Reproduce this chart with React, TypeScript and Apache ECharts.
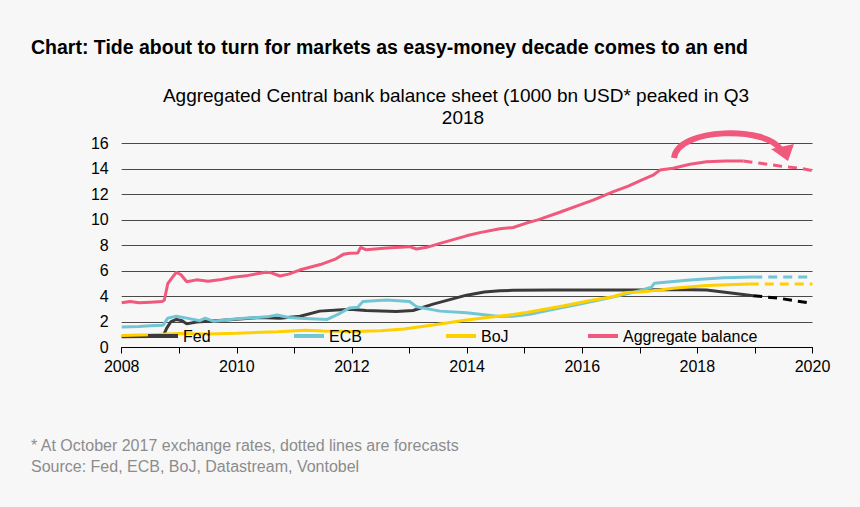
import React, { useEffect, useRef } from "react";
import * as echarts from "echarts";

// ---- data (year, value in 1000 bn USD) ----
const aggregateActual: [number, number][] = [
  [2008.0, 3.5], [2008.15, 3.6], [2008.3, 3.5], [2008.5, 3.55], [2008.7, 3.6], [2008.74, 3.7],
  [2008.8, 5.0], [2008.88, 5.5], [2008.95, 5.9], [2009.03, 5.7], [2009.13, 5.15], [2009.3, 5.3],
  [2009.5, 5.2], [2009.7, 5.3], [2009.94, 5.5], [2010.2, 5.65], [2010.5, 5.9], [2010.6, 5.85],
  [2010.75, 5.6], [2010.9, 5.75], [2011.09, 6.07], [2011.45, 6.5], [2011.7, 6.9], [2011.85, 7.3],
  [2011.96, 7.38], [2012.1, 7.4], [2012.15, 7.85], [2012.25, 7.65], [2012.6, 7.8], [2013.0, 7.9],
  [2013.12, 7.72], [2013.3, 7.85], [2013.53, 8.16], [2013.99, 8.75], [2014.22, 9.0], [2014.57, 9.3],
  [2014.8, 9.4], [2015.03, 9.75], [2015.23, 10.0], [2015.61, 10.6], [2015.96, 11.17], [2016.19, 11.55],
  [2016.53, 12.2], [2016.8, 12.65], [2017.0, 13.05], [2017.23, 13.5], [2017.35, 13.9], [2017.58, 14.04],
  [2017.87, 14.36], [2018.16, 14.56], [2018.5, 14.62], [2018.8, 14.62],
];
const aggregateForecast: [number, number][] = [
  [2018.8, 14.62], [2019.1, 14.43], [2019.43, 14.22], [2019.78, 14.05], [2020.0, 13.86],
];

const fedActual: [number, number][] = [
  [2008.0, 0.85], [2008.5, 0.87], [2008.72, 0.9], [2008.78, 1.5], [2008.85, 2.0], [2008.95, 2.2],
  [2009.05, 2.1], [2009.13, 1.85], [2009.3, 2.0], [2009.5, 2.05], [2009.94, 2.2], [2010.4, 2.35],
  [2010.75, 2.3], [2011.1, 2.45], [2011.44, 2.85], [2011.96, 3.0], [2012.24, 2.9], [2012.77, 2.82],
  [2013.06, 2.9], [2013.41, 3.4], [2013.99, 4.1], [2014.3, 4.35], [2014.57, 4.45], [2014.8, 4.48],
  [2015.5, 4.5], [2016.5, 4.5], [2017.0, 4.5], [2017.58, 4.55], [2018.16, 4.5], [2018.62, 4.25],
  [2018.97, 4.06],
];
const fedForecast: [number, number][] = [[2018.97, 4.06], [2019.43, 3.85], [2020.0, 3.45]];

const ecbActual: [number, number][] = [
  [2008.0, 1.6], [2008.3, 1.65], [2008.5, 1.7], [2008.72, 1.75], [2008.8, 2.3], [2008.95, 2.45],
  [2009.13, 2.3], [2009.36, 2.1], [2009.45, 2.3], [2009.6, 2.05], [2010.0, 2.25], [2010.52, 2.4],
  [2010.7, 2.55], [2010.9, 2.35], [2011.09, 2.3], [2011.57, 2.2], [2011.8, 2.7], [2011.96, 3.1],
  [2012.1, 3.15], [2012.19, 3.6], [2012.6, 3.72], [2013.0, 3.6], [2013.12, 3.2], [2013.53, 2.85],
  [2013.99, 2.72], [2014.22, 2.6], [2014.57, 2.42], [2014.8, 2.45], [2015.09, 2.6], [2015.5, 3.0],
  [2015.96, 3.4], [2016.53, 3.95], [2017.0, 4.45], [2017.2, 4.72], [2017.25, 5.03], [2017.87, 5.29],
  [2018.45, 5.47], [2018.97, 5.52],
];
const ecbForecast: [number, number][] = [[2018.97, 5.52], [2020.0, 5.52]];

const bojActual: [number, number][] = [
  [2008.0, 0.95], [2008.5, 1.0], [2009.0, 1.1], [2009.5, 1.05], [2010.0, 1.12], [2010.7, 1.24],
  [2011.2, 1.35], [2011.5, 1.3], [2012.0, 1.25], [2012.5, 1.32], [2012.9, 1.45], [2013.41, 1.76],
  [2013.99, 2.15], [2014.57, 2.47], [2014.8, 2.58], [2015.03, 2.75], [2015.66, 3.25], [2016.19, 3.72],
  [2016.53, 3.98], [2016.77, 4.3], [2017.0, 4.35], [2017.35, 4.5], [2017.58, 4.64], [2018.16, 4.85],
  [2018.91, 4.98],
];
const bojForecast: [number, number][] = [[2018.91, 4.98], [2020.0, 4.98]];

const seriesNames = ["Fed", "ECB", "BoJ", "Aggregate balance"];
const seriesColors = ["#3a3a3a", "#72c6d4", "#ffd000", "#f0587c"];
const forecastColors = ["#000000", "#72c6d4", "#ffd000", "#f0587c"];
const legendLeft = [148, 294, 446, 588];

const titleText = "Chart: Tide about to turn for markets as easy-money decade comes to an end";
const subtitleLines = ["Aggregated Central bank balance sheet (1000 bn USD* peaked in Q3", "2018"];
const footnotes = [
  "* At October 2017 exchange rates, dotted lines are forecasts",
  "Source: Fed, ECB, BoJ, Datastream, Vontobel",
];

const FONT = "'Liberation Sans', Arial, sans-serif";

export default function App() {
  const ref = useRef<HTMLDivElement>(null);
  useEffect(() => {
    if (!ref.current) return;
    const chart = echarts.init(ref.current, undefined, { renderer: "svg" });
    const actual = [fedActual, ecbActual, bojActual, aggregateActual];
    const forecast = [fedForecast, ecbForecast, bojForecast, aggregateForecast];
    const series: any[] = [];
    seriesNames.forEach((name, i) => {
      series.push({
        name,
        type: "line",
        data: actual[i],
        showSymbol: false,
        symbol: "none",
        lineStyle: { color: seriesColors[i], width: 3 },
        itemStyle: { color: seriesColors[i] },
        z: i === 3 ? 5 : 3,
      });
      series.push({
        name,
        type: "line",
        data: forecast[i],
        showSymbol: false,
        symbol: "none",
        lineStyle: { color: forecastColors[i], width: 3, type: [9, 6] },
        itemStyle: { color: seriesColors[i] },
        z: 3,
      });
    });
    chart.setOption({
      animation: false,
      backgroundColor: "#f7f7f7",
      textStyle: { fontFamily: FONT },
      grid: { left: 121.7, right: 47.5, top: 143.3, bottom: 159.5, containLabel: false },
      legend: seriesNames.map((name, i) => ({
        data: [name],
        left: legendLeft[i],
        top: 328,
        icon: "rect",
        itemWidth: 30,
        itemHeight: 4,
        padding: 0,
        selectedMode: false,
        textStyle: { fontSize: 16, color: "#000", fontFamily: FONT },
      })),
      xAxis: {
        type: "value",
        min: 2008,
        max: 2020,
        interval: 1,
        axisLine: { show: true, lineStyle: { color: "#000", width: 1 } },
        axisTick: { show: true, length: 6, lineStyle: { color: "#000" } },
        splitLine: { show: false },
        axisLabel: {
          fontSize: 16,
          color: "#000",
          margin: 11,
          fontFamily: FONT,
          formatter: (v: number) => (Math.round(v) % 2 === 0 ? String(Math.round(v)) : ""),
        },
      },
      yAxis: {
        type: "value",
        min: 0,
        max: 16,
        interval: 2,
        axisLine: { show: false },
        axisTick: { show: false },
        splitLine: { show: true, lineStyle: { color: "#4a4a4a", width: 1 } },
        axisLabel: { fontSize: 16, color: "#000", margin: 13, fontFamily: FONT },
      },
      graphic: [
        {
          type: "text",
          left: 31,
          top: 37,
          style: { text: titleText, font: `bold 19.5px ${FONT}`, fill: "#000" },
        },
        {
          type: "text",
          x: 456,
          y: 86,
          style: {
            text: subtitleLines[0],
            font: `19px ${FONT}`,
            fill: "#000",
            textAlign: "center",
          },
        },
        {
          type: "text",
          x: 463,
          y: 108,
          style: {
            text: subtitleLines[1],
            font: `19px ${FONT}`,
            fill: "#000",
            textAlign: "center",
          },
        },
        {
          type: "text",
          left: 31,
          top: 437,
          style: { text: footnotes[0], font: `16px ${FONT}`, fill: "#8c8c8c" },
        },
        {
          type: "text",
          left: 31,
          top: 458,
          style: { text: footnotes[1], font: `16px ${FONT}`, fill: "#8c8c8c" },
        },
        {
          type: "bezierCurve",
          shape: { x1: 674, y1: 158, cpx1: 678, cpy1: 127, cpx2: 768, cpy2: 126, x2: 781, y2: 150 },
          style: { stroke: "#f0587c", lineWidth: 6, fill: null },
          z: 10,
        },
        {
          type: "polygon",
          shape: { points: [[771, 149], [794, 144], [788, 161]] },
          style: { fill: "#f0587c" },
          z: 10,
        },
      ],
      series,
    });
    return () => chart.dispose();
  }, []);
  return (
    <div
      ref={ref}
      style={{ position: "absolute", left: 0, top: 0, width: 860, height: 507, background: "#f7f7f7" }}
    />
  );
}
